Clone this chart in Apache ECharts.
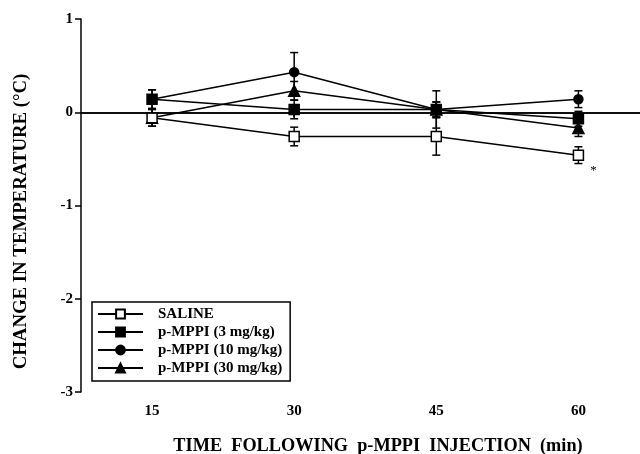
<!DOCTYPE html>
<html>
<head>
<meta charset="utf-8">
<script src="https://cdn.jsdelivr.net/npm/echarts@6/dist/echarts.min.js"></script>
<style>
  html, body { margin: 0; padding: 0; background: #fff; }
  #chart { width: 640px; height: 454px; }
</style>
</head>
<body>
<div id="chart"></div>
<script>
// minutes after injection
const times = [15, 30, 45, 60]
const yTicks = [-3, -2, -1, 0, 1]

// mean change in temperature (°C) and SEM
const saline = [-0.06, -0.26, -0.26, -0.46]
const salineErr = [0.09, 0.1, 0.2, 0.09]
const mppi3 = [0.14, 0.03, 0.03, -0.07]
const mppi3Err = [0.1, 0.1, 0.2, 0.08]
const mppi10 = [0.14, 0.43, 0.03, 0.14]
const mppi10Err = [0.1, 0.21, 0.08, 0.09]
const mppi30 = [-0.06, 0.23, 0.03, -0.17]
const mppi30Err = [0.09, 0.1, 0.08, 0.09]

const FONT = 'Liberation Serif'

function pairs(ys) {
  return times.map((t, i) => [t, ys[i]])
}

function errData(ys, errs) {
  return times.map((t, i) => [t, ys[i] - errs[i], ys[i] + errs[i]])
}

// error bars: vertical line with caps
function errorSeries(ys, errs) {
  return {
    type: 'custom',
    silent: true,
    z: 1,
    data: errData(ys, errs),
    renderItem(params, api) {
      const lo = api.coord([api.value(0), api.value(1)])
      const hi = api.coord([api.value(0), api.value(2)])
      const w = 4
      const style = { stroke: '#000', lineWidth: 1.5 }
      return {
        type: 'group',
        children: [
          { type: 'line', shape: { x1: lo[0], y1: lo[1], x2: hi[0], y2: hi[1] }, style },
          { type: 'line', shape: { x1: lo[0] - w, y1: lo[1], x2: lo[0] + w, y2: lo[1] }, style },
          { type: 'line', shape: { x1: hi[0] - w, y1: hi[1], x2: hi[0] + w, y2: hi[1] }, style }
        ]
      }
    }
  }
}

function lineSeries(name, ys, symbol, size, fill) {
  return {
    name,
    type: 'line',
    z: 3,
    data: pairs(ys),
    symbol,
    symbolSize: size,
    showAllSymbol: true,
    lineStyle: { color: '#000', width: 1.5 },
    itemStyle: { color: fill, borderColor: '#000', borderWidth: 1.5 }
  }
}

const chart = echarts.init(document.getElementById('chart'))

const salineLine = lineSeries('SALINE', saline, 'rect', 10, '#fff')
salineLine.z = 4
salineLine.markPoint = {
  symbol: 'circle',
  symbolSize: 0,
  silent: true,
  data: [{ coord: [times[3], saline[3]] }],
  label: {
    show: true,
    formatter: '*',
    color: '#000',
    fontFamily: FONT,
    fontSize: 13,
    offset: [15, 15]
  }
}

const mppi3Line = lineSeries('p-MPPI (3 mg/kg)', mppi3, 'rect', 10, '#000')
mppi3Line.markLine = {
  silent: true,
  symbol: 'none',
  label: { show: false },
  lineStyle: { color: '#000', width: 1.5, type: 'solid' },
  data: [{ yAxis: 0 }]
}

chart.setOption({
  animation: false,
  backgroundColor: '#fff',
  grid: { left: 81, right: 0, top: 19, bottom: 62, outerBoundsMode: 'none' },
  xAxis: {
    type: 'value',
    min: 7.5,
    max: 66.5,
    name: 'TIME  FOLLOWING  p-MPPI  INJECTION  (min)',
    nameLocation: 'middle',
    nameGap: 45,
    nameTextStyle: { fontFamily: FONT, fontWeight: 'bold', fontSize: 18.3, color: '#000', padding: [0, 0, 0, 35] },
    axisLine: { lineStyle: { color: '#000', width: 1.5 } },
    axisTick: { customValues: times, length: 5, lineStyle: { color: '#000', width: 1.5 } },
    axisLabel: { customValues: times, margin: 12, fontFamily: FONT, fontWeight: 'bold', fontSize: 15, color: '#000' },
    splitLine: { show: false }
  },
  yAxis: {
    type: 'value',
    min: -3,
    max: 1,
    interval: 1,
    name: 'CHANGE IN TEMPERATURE (°C)',
    nameLocation: 'middle',
    nameGap: 50,
    nameTextStyle: { fontFamily: FONT, fontWeight: 'bold', fontSize: 18.8, color: '#000', padding: [0, 32, 0, 0] },
    axisLine: { show: true, lineStyle: { color: '#000', width: 1.5 } },
    axisTick: { show: true, customValues: yTicks, length: 6, lineStyle: { color: '#000', width: 1.5 } },
    axisLabel: { customValues: yTicks, margin: 8, fontFamily: FONT, fontWeight: 'bold', fontSize: 15, color: '#000' },
    splitLine: { show: false }
  },
  legend: {
    orient: 'vertical',
    left: 92,
    top: 302,
    itemWidth: 45,
    itemHeight: 11,
    itemGap: 2,
    padding: [4, 8, 5, 5],
    borderColor: '#000',
    borderWidth: 1.5,
    backgroundColor: '#fff',
    textStyle: { fontFamily: FONT, fontWeight: 'bold', fontSize: 15, color: '#000', padding: [0, 0, 0, 10], lineHeight: 16 },
    data: ['SALINE', 'p-MPPI (3 mg/kg)', 'p-MPPI (10 mg/kg)', 'p-MPPI (30 mg/kg)']
  },
  series: [
    errorSeries(saline, salineErr),
    errorSeries(mppi3, mppi3Err),
    errorSeries(mppi10, mppi10Err),
    errorSeries(mppi30, mppi30Err),
    salineLine,
    mppi3Line,
    lineSeries('p-MPPI (10 mg/kg)', mppi10, 'circle', 9, '#000'),
    lineSeries('p-MPPI (30 mg/kg)', mppi30, 'triangle', 11, '#000')
  ]
})
</script>
</body>
</html>
